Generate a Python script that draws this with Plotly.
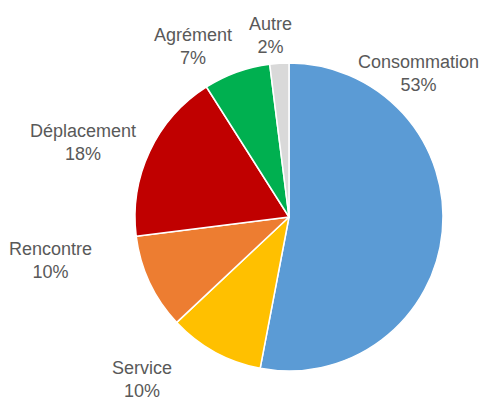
import plotly.graph_objects as go

labels = ["Consommation", "Service", "Rencontre", "Déplacement", "Agrément", "Autre"]
values = [53, 10, 10, 18, 7, 2]
colors = ["#5B9BD5", "#FFC000", "#ED7D31", "#C00000", "#00B050", "#D9D9D9"]
label_pos = [(418, 73), (142, 379), (50, 260), (83, 142), (193, 47), (270, 35)]

W, H = 481, 403
cx, cy, r = 289, 217, 154

fig = go.Figure(go.Pie(
    labels=labels, values=values, sort=False, direction="clockwise", rotation=0,
    marker=dict(colors=colors, line=dict(color="white", width=1.5)),
    textinfo="none", hoverinfo="label+percent", showlegend=False,
    domain=dict(x=[(cx - r) / W, (cx + r) / W], y=[1 - (cy + r) / H, 1 - (cy - r) / H]),
))

for lab, v, (x, y) in zip(labels, values, label_pos):
    fig.add_annotation(x=x / W, y=1 - y / H, xref="paper", yref="paper",
                       text=f"{lab}<br>{v}%", showarrow=False,
                       font=dict(family="Liberation Sans, Arial", size=18, color="#595959"),
                       align="center", xanchor="center", yanchor="middle")

fig.update_layout(width=W, height=H, margin=dict(l=0, r=0, t=0, b=0),
                  paper_bgcolor="white", plot_bgcolor="white")
fig.write_html("out.html", config={"displayModeBar": False},
               post_script="document.body.style.margin='0';document.body.style.overflow='hidden';")
